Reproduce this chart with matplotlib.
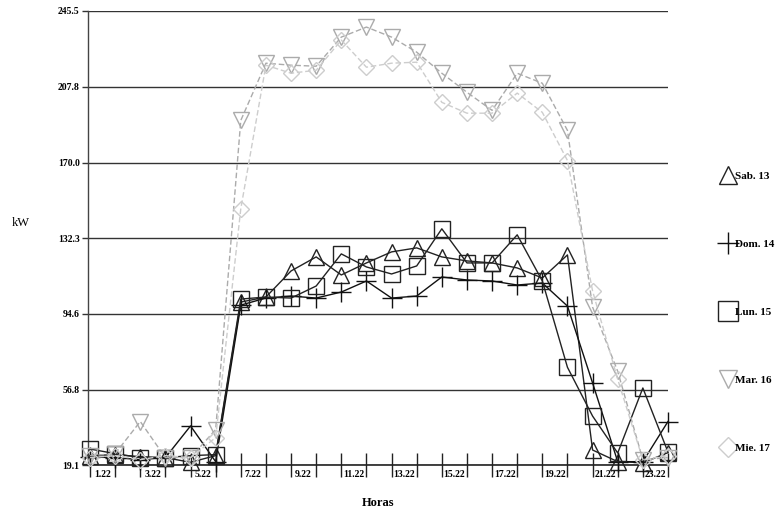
import numpy as np
import matplotlib
matplotlib.use("Agg")
import matplotlib.pyplot as plt
from matplotlib.lines import Line2D

# hourly readings (kW), 24 points starting at 0.22
hours = ["0.22", "1.22", "2.22", "3.22", "4.22", "5.22", "6.22", "7.22", "8.22", "9.22",
         "10.22", "11.22", "12.22", "13.22", "14.22", "15.22", "16.22", "17.22", "18.22",
         "19.22", "20.22", "21.22", "22.22", "23.22"]

sab13 = [24, 24.5, 23.5, 23, 20.7, 24, 100.5, 103, 116, 123, 114, 120,
         125.5, 127.5, 123, 121, 120, 117.5, 112.5, 124, 26.8, 21, 20.5, 25.5]
dom14 = [23.3, 23, 22, 23, 38.8, 21, 99, 102.5, 103.5, 102.5, 105.5, 111,
         102.5, 103.5, 113, 111.5, 111, 109, 110, 98.5, 60.2, 21, 21, 41]
lun15 = [27.3, 25, 23, 23, 24, 24.5, 102, 103, 102.5, 108.5, 124.5, 118,
         114.5, 118.5, 137, 120, 120, 134, 111, 68, 43.7, 25.3, 57.7, 25.8]
mar16 = [24, 25, 41, 23, 23, 37, 191, 219.5, 218.5, 218, 232.5, 237.5,
         232.5, 225, 214.5, 205, 196, 214.5, 209.5, 186, 98, 66, 22, 23]
mie17 = [23, 24, 22, 24, 23, 33, 147, 218.5, 214.5, 216, 231, 217.5,
         219.5, 220, 200, 194.6, 194.6, 204.6, 195, 171, 106, 62, 22, 24]

labels = ["Sab. 13", "Dom. 14", "Lun. 15", "Mar. 16", "Mie. 17"]
yticks = [19.1, 56.8, 94.6, 132.3, 170.0, 207.8, 245.5]

serif = "Liberation Serif"
x = np.arange(len(hours))

fig = plt.figure(figsize=(7.83, 5.14), dpi=100)
ax = fig.add_axes([0.1124, 0.0944, 0.7407, 0.8842])

styles = [
    dict(marker="^", color="#222222", ls="-", lw=1.0, ms=11),
    dict(marker="+", color="#111111", ls="-", lw=1.0, ms=14),
    dict(marker="s", color="#222222", ls="-", lw=1.0, ms=12),
    dict(marker="v", color="#ababab", ls=(0, (4, 2)), lw=1.0, ms=11),
    dict(marker="D", color="#cdcdcd", ls=(0, (4, 2)), lw=1.0, ms=8),
]
series = [sab13, dom14, lun15, mar16, mie17]

handles = []
for data, st, lab in zip(series, styles, labels):
    ax.plot(x, data, linestyle=st["ls"], color=st["color"], linewidth=st["lw"],
            marker=st["marker"], markersize=st["ms"], markerfacecolor="none",
            markeredgecolor=st["color"], markeredgewidth=1.0, clip_on=False, zorder=3)
    handles.append(Line2D([], [], linestyle="none", marker=st["marker"],
                          markersize=st["ms"] + 2, markerfacecolor="none",
                          markeredgecolor=st["color"], markeredgewidth=1.0, label=lab))

ax.set_xlim(-0.08, 22.96)
ax.set_ylim(19.1, 245.5)

# horizontal grid lines at the tick values
ax.set_yticks(yticks)
ax.set_yticklabels(["%.1f" % v for v in yticks], fontfamily=serif,
                   fontweight="bold", fontsize=7)
ax.yaxis.grid(True, color="#333333", linewidth=1.0)
ax.tick_params(axis="y", length=4, width=1, pad=2, color="#333333")

# category ticks on each point, labels every other hour, half a step left
ax.set_xticks(x)
ax.set_xticklabels([])
ax.tick_params(axis="x", which="major", direction="inout", length=17, width=1,
               color="#222222")
lab_pos = [i - 0.5 for i in range(1, len(hours), 2)]
ax.set_xticks(lab_pos, minor=True)
ax.set_xticklabels([hours[i] for i in range(1, len(hours), 2)], minor=True,
                   fontfamily=serif, fontweight="bold", fontsize=7)
ax.tick_params(axis="x", which="minor", length=0, pad=3)

for s in ["top", "right"]:
    ax.spines[s].set_visible(False)
ax.spines["left"].set_color("#444444")
ax.spines["bottom"].set_color("#222222")
ax.spines["left"].set_linewidth(1.0)
ax.spines["bottom"].set_linewidth(1.2)
ax.set_axisbelow(True)

fig.text(0.026, 1 - 223 / 514, "kW", fontfamily=serif, fontsize=9,
         ha="center", va="center")
fig.text(378 / 783, 1 - 503 / 514, "Horas", fontfamily=serif, fontsize=9,
         fontweight="bold", ha="center", va="center")

fig.legend(handles=handles, loc="upper left", bbox_to_anchor=(0.91, 0.687),
           bbox_transform=fig.transFigure, frameon=False, handlelength=1.0,
           handletextpad=0.1, labelspacing=5.25,
           prop=dict(family=serif, size=8, weight="bold"))

fig.savefig("out.png", dpi=100)
